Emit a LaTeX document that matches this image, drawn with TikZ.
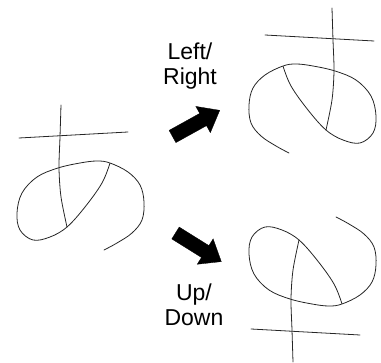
\documentclass[tikz,border=0pt]{standalone}
\usepackage{fontspec}
\setmainfont{Liberation Sans}
\usepackage{tikz}
\tikzset
{
  penline/.style={draw=black!85,line width=0.8pt,line cap=round,line join=round},
  bigarrow/.style={fill=black,draw=black,line width=0.3pt},
  flipnote/.style={anchor=base,inner sep=0pt,font=\fontsize{23}{25}\selectfont},
  kana/.pic={
    % horizontal stroke
    \draw[penline] (19,138) -- (128,132);
    % vertical stroke
    \draw[penline] plot[smooth] coordinates {(61,105) (60,137) (59,168) (61,197) (67,227)};
    % diagonal and loop
    \draw[penline] plot[smooth,tension=0.6] coordinates {(110,163) (102,183) (85,207) (67,227)
      (50,237) (33,240) (20,230) (17,213) (22,193) (37,177) (58,168) (80,163) (97,161)
      (110,163) (128,172) (140,185) (144,202) (142,220) (132,233) (117,243) (104,250)};
  }
}

\begin{document}
\begin{tikzpicture}[x=1pt,y=-1pt]
    \useasboundingbox (0,0) rectangle (381,363);

    % Original character
    \pic at (0,0) {kana};

    % Mirrored left/right
    \begin{scope}[shift={(393,-97)},xscale=-1]
        \pic[transform shape] at (0,0) {kana};
    \end{scope}

    % Flipped up/down
    \begin{scope}[shift={(232,467)},yscale=-1]
        \pic[transform shape] at (0,0) {kana};
    \end{scope}

    % Arrows
    \begin{scope}[shift={(172.5,136.5)},rotate=29]
        \filldraw[bigarrow] (0,7) -- (35,7) -- (35,15) -- (54,0) -- (35,-15) -- (35,-7) -- (0,-7) -- cycle;
    \end{scope}
    \begin{scope}[shift={(175.5,233)},rotate=-32]
        \filldraw[bigarrow] (0,7) -- (35,7) -- (35,15) -- (54,0) -- (35,-15) -- (35,-7) -- (0,-7) -- cycle;
    \end{scope}

    % Labels
    \node[flipnote] (lrtop) at (190,59.5) {Left/};
    \node[flipnote] (lrbot) at (190,85) {Right};
    \node[flipnote] (udtop) at (194,301) {Up/};
    \node[flipnote] (udbot) at (194,326) {Down};
\end{tikzpicture}
\end{document}
